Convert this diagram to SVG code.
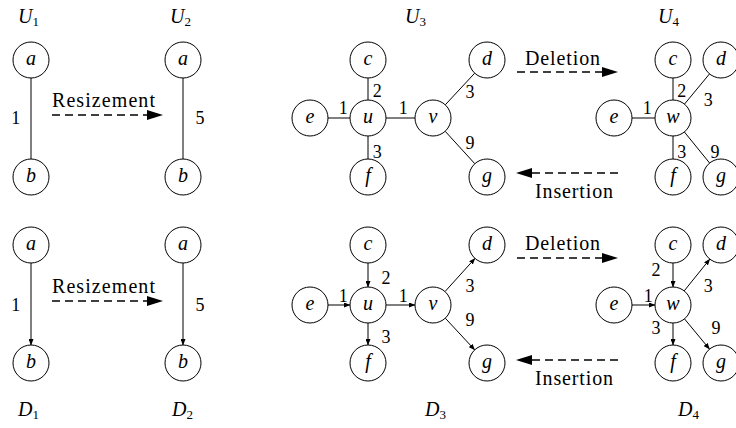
<svg xmlns="http://www.w3.org/2000/svg" width="736" height="428" viewBox="0 0 736 428" font-family="Liberation Serif">
<defs>
<marker id="ah" markerWidth="7" markerHeight="5" refX="6" refY="2.5" orient="auto" markerUnits="userSpaceOnUse"><path d="M0,0 L6.5,2.5 L0,5 z" fill="#000"/></marker>
<marker id="bh" markerWidth="17" markerHeight="11" refX="0" refY="5" orient="auto" markerUnits="userSpaceOnUse"><path d="M0,0 L16,5 L0,10 z" fill="#000"/></marker>
</defs>

<g id="titles" font-family="Liberation Serif" font-size="20" fill="#000">
<text x="18" y="23"><tspan font-style="italic">U</tspan><tspan font-size="13" dy="3">1</tspan></text>
<text x="170" y="23"><tspan font-style="italic">U</tspan><tspan font-size="13" dy="3">2</tspan></text>
<text x="405" y="23"><tspan font-style="italic">U</tspan><tspan font-size="13" dy="3">3</tspan></text>
<text x="658" y="23"><tspan font-style="italic">U</tspan><tspan font-size="13" dy="3">4</tspan></text>
<text x="18" y="416"><tspan font-style="italic">D</tspan><tspan font-size="13" dy="3">1</tspan></text>
<text x="172" y="416"><tspan font-style="italic">D</tspan><tspan font-size="13" dy="3">2</tspan></text>
<text x="425" y="416"><tspan font-style="italic">D</tspan><tspan font-size="13" dy="3">3</tspan></text>
<text x="678" y="416"><tspan font-style="italic">D</tspan><tspan font-size="13" dy="3">4</tspan></text>
</g>

<g id="connectors" stroke="#000" fill="none" stroke-width="1">
<g id="undirected">
<line x1="31" y1="78" x2="31" y2="159"/>
<line x1="183" y1="78" x2="183" y2="159"/>
<line x1="368" y1="78" x2="368" y2="100"/>
<line x1="328" y1="118" x2="350" y2="118"/>
<line x1="368" y1="136" x2="368" y2="159"/>
<line x1="386" y1="118" x2="415" y2="118"/>
<line x1="445.3" y1="104.8" x2="474.7" y2="73.2"/>
<line x1="445.2" y1="131.3" x2="474.8" y2="163.7"/>
<line x1="673" y1="78" x2="673" y2="100"/>
<line x1="632" y1="118" x2="655" y2="118"/>
<line x1="673" y1="136" x2="673" y2="159"/>
<line x1="684.5" y1="104.1" x2="709.5" y2="73.9"/>
<line x1="684.4" y1="132" x2="709.6" y2="163"/>
</g>
<g id="directed" marker-end="url(#ah)">
<line x1="31" y1="263" x2="31" y2="345"/>
<line x1="183" y1="263" x2="183" y2="345"/>
<line x1="368" y1="263" x2="368" y2="287"/>
<line x1="328" y1="305" x2="350" y2="305"/>
<line x1="368" y1="323" x2="368" y2="345"/>
<line x1="386" y1="305" x2="415" y2="305"/>
<line x1="445" y1="291.6" x2="475" y2="258.4"/>
<line x1="445.3" y1="318.2" x2="474.7" y2="349.8"/>
<line x1="673" y1="263" x2="673" y2="287"/>
<line x1="632" y1="305" x2="655" y2="305"/>
<line x1="673" y1="323" x2="673" y2="345"/>
<line x1="684.2" y1="290.9" x2="709.8" y2="259.1"/>
<line x1="684.5" y1="318.9" x2="709.5" y2="349.1"/>
</g>
<g id="transformations" stroke-width="1.6" stroke-dasharray="8 5" marker-end="url(#bh)">
<line x1="52" y1="115" x2="147" y2="115"/>
<line x1="52" y1="301" x2="147" y2="301"/>
<line x1="517" y1="72" x2="602" y2="72"/>
<line x1="618" y1="173" x2="532" y2="173"/>
<line x1="517" y1="258" x2="602" y2="258"/>
<line x1="618" y1="360" x2="532" y2="360"/>
</g>
</g>

<g id="arrow-labels" font-family="Liberation Serif" font-size="20" fill="#000">
<text x="52" y="107" textLength="103">Resizement</text>
<text x="52" y="293" textLength="103">Resizement</text>
<text x="525" y="65" textLength="75">Deletion</text>
<text x="535" y="198" textLength="78">Insertion</text>
<text x="525" y="250" textLength="75">Deletion</text>
<text x="535" y="385" textLength="78">Insertion</text>
</g>

<g id="edge-labels" font-family="Liberation Serif" font-size="18" text-anchor="middle" fill="#000">
<text x="15.7" y="124">1</text>
<text x="200" y="124">5</text>
<text x="377.3" y="97">2</text>
<text x="343.3" y="114">1</text>
<text x="403.3" y="114">1</text>
<text x="377.3" y="158">3</text>
<text x="470" y="98">3</text>
<text x="470" y="149">9</text>
<text x="681.7" y="97">2</text>
<text x="708.3" y="106">3</text>
<text x="647.3" y="114">1</text>
<text x="681.7" y="158">3</text>
<text x="715" y="158">9</text>
<text x="15.7" y="311">1</text>
<text x="200" y="311">5</text>
<text x="386" y="284">2</text>
<text x="343.3" y="302">1</text>
<text x="403.3" y="302">1</text>
<text x="386" y="343">3</text>
<text x="470" y="292">3</text>
<text x="470" y="326">9</text>
<text x="656" y="276">2</text>
<text x="648.3" y="302">1</text>
<text x="708.3" y="292">3</text>
<text x="656" y="334">3</text>
<text x="716" y="334">9</text>
</g>

<g id="nodes" font-family="Liberation Serif" font-size="20" font-style="italic" text-anchor="middle" stroke-width="1">
<g id="U1-a"><circle cx="31" cy="60" r="18" fill="#fff" stroke="#000"/><text x="31" y="64.5">a</text></g>
<g id="U1-b"><circle cx="31" cy="177" r="18" fill="#fff" stroke="#000"/><text x="31" y="181.5">b</text></g>
<g id="U2-a"><circle cx="183" cy="60" r="18" fill="#fff" stroke="#000"/><text x="183" y="64.5">a</text></g>
<g id="U2-b"><circle cx="183" cy="177" r="18" fill="#fff" stroke="#000"/><text x="183" y="181.5">b</text></g>
<g id="U3-c"><circle cx="368" cy="60" r="18" fill="#fff" stroke="#000"/><text x="368" y="64.5">c</text></g>
<g id="U3-e"><circle cx="310" cy="118" r="18" fill="#fff" stroke="#000"/><text x="310" y="122.5">e</text></g>
<g id="U3-u"><circle cx="368" cy="118" r="18" fill="#fff" stroke="#000"/><text x="368" y="122.5">u</text></g>
<g id="U3-f"><circle cx="368" cy="177" r="18" fill="#fff" stroke="#000"/><text x="368" y="181.5">f</text></g>
<g id="U3-v"><circle cx="433" cy="118" r="18" fill="#fff" stroke="#000"/><text x="433" y="122.5">v</text></g>
<g id="U3-d"><circle cx="487" cy="60" r="18" fill="#fff" stroke="#000"/><text x="487" y="64.5">d</text></g>
<g id="U3-g"><circle cx="487" cy="177" r="18" fill="#fff" stroke="#000"/><text x="487" y="181.5">g</text></g>
<g id="U4-c"><circle cx="673" cy="60" r="18" fill="#fff" stroke="#000"/><text x="673" y="64.5">c</text></g>
<g id="U4-d"><circle cx="721" cy="60" r="18" fill="#fff" stroke="#000"/><text x="721" y="64.5">d</text></g>
<g id="U4-e"><circle cx="614" cy="118" r="18" fill="#fff" stroke="#000"/><text x="614" y="122.5">e</text></g>
<g id="U4-w"><circle cx="673" cy="118" r="18" fill="#fff" stroke="#000"/><text x="673" y="122.5">w</text></g>
<g id="U4-f"><circle cx="673" cy="177" r="18" fill="#fff" stroke="#000"/><text x="673" y="181.5">f</text></g>
<g id="U4-g"><circle cx="721" cy="177" r="18" fill="#fff" stroke="#000"/><text x="721" y="181.5">g</text></g>
<g id="D1-a"><circle cx="31" cy="245" r="18" fill="#fff" stroke="#000"/><text x="31" y="249.5">a</text></g>
<g id="D1-b"><circle cx="31" cy="363" r="18" fill="#fff" stroke="#000"/><text x="31" y="367.5">b</text></g>
<g id="D2-a"><circle cx="183" cy="245" r="18" fill="#fff" stroke="#000"/><text x="183" y="249.5">a</text></g>
<g id="D2-b"><circle cx="183" cy="363" r="18" fill="#fff" stroke="#000"/><text x="183" y="367.5">b</text></g>
<g id="D3-c"><circle cx="368" cy="245" r="18" fill="#fff" stroke="#000"/><text x="368" y="249.5">c</text></g>
<g id="D3-e"><circle cx="310" cy="305" r="18" fill="#fff" stroke="#000"/><text x="310" y="309.5">e</text></g>
<g id="D3-u"><circle cx="368" cy="305" r="18" fill="#fff" stroke="#000"/><text x="368" y="309.5">u</text></g>
<g id="D3-f"><circle cx="368" cy="363" r="18" fill="#fff" stroke="#000"/><text x="368" y="367.5">f</text></g>
<g id="D3-v"><circle cx="433" cy="305" r="18" fill="#fff" stroke="#000"/><text x="433" y="309.5">v</text></g>
<g id="D3-d"><circle cx="487" cy="245" r="18" fill="#fff" stroke="#000"/><text x="487" y="249.5">d</text></g>
<g id="D3-g"><circle cx="487" cy="363" r="18" fill="#fff" stroke="#000"/><text x="487" y="367.5">g</text></g>
<g id="D4-c"><circle cx="673" cy="245" r="18" fill="#fff" stroke="#000"/><text x="673" y="249.5">c</text></g>
<g id="D4-d"><circle cx="721" cy="245" r="18" fill="#fff" stroke="#000"/><text x="721" y="249.5">d</text></g>
<g id="D4-e"><circle cx="614" cy="305" r="18" fill="#fff" stroke="#000"/><text x="614" y="309.5">e</text></g>
<g id="D4-w"><circle cx="673" cy="305" r="18" fill="#fff" stroke="#000"/><text x="673" y="309.5">w</text></g>
<g id="D4-f"><circle cx="673" cy="363" r="18" fill="#fff" stroke="#000"/><text x="673" y="367.5">f</text></g>
<g id="D4-g"><circle cx="721" cy="363" r="18" fill="#fff" stroke="#000"/><text x="721" y="367.5">g</text></g>
</g>
</svg>
